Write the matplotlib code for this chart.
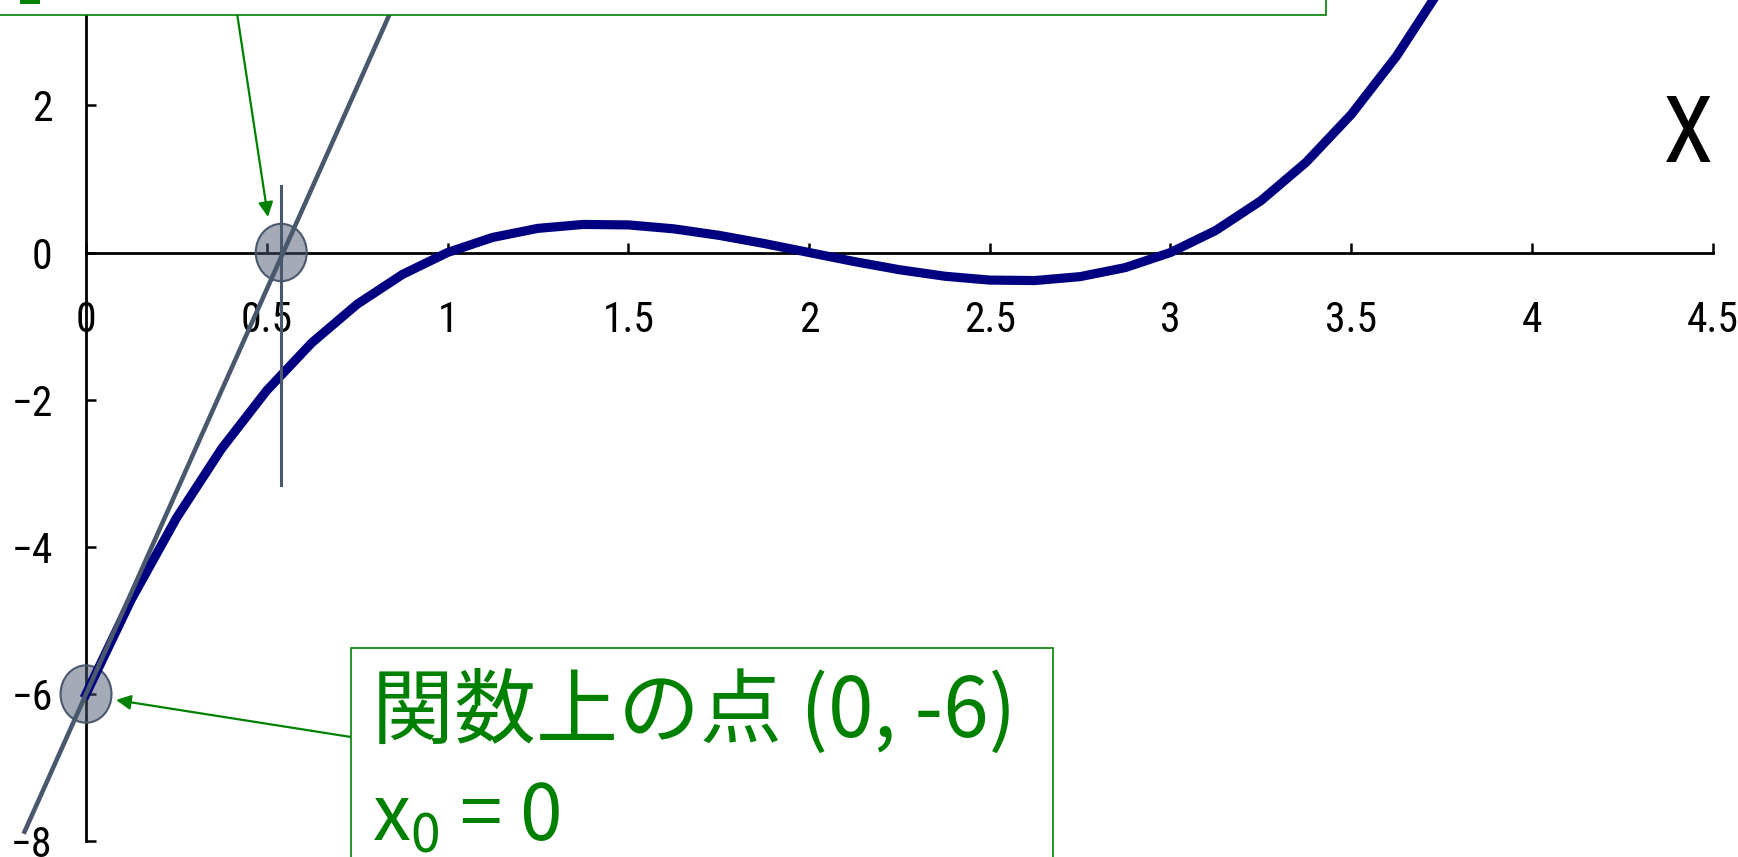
import matplotlib
matplotlib.use("Agg")
import matplotlib.pyplot as plt
from matplotlib.patches import Ellipse, Rectangle

plt.rcParams['font.family'] = ['Noto Sans CJK JP', 'DejaVu Sans']
plt.rcParams['mathtext.fontset'] = 'custom'
plt.rcParams['mathtext.rm'] = 'Noto Sans CJK JP'
plt.rcParams['mathtext.it'] = 'Noto Sans CJK JP'

# f(x) = (x-1)(x-2)(x-3), sampled every 0.125
curve_x = [0, 0.125, 0.25, 0.375, 0.5, 0.625, 0.75, 0.875, 1.0, 1.125, 1.25, 1.375,
           1.5, 1.625, 1.75, 1.875, 2.0, 2.125, 2.25, 2.375, 2.5, 2.625, 2.75, 2.875,
           3.0, 3.125, 3.25, 3.375, 3.5, 3.625, 3.75]
curve_y = [-6.0, -4.717, -3.609, -2.666, -1.875, -1.225, -0.703, -0.299, 0.0, 0.205,
           0.328, 0.381, 0.375, 0.322, 0.234, 0.123, 0.0, -0.123, -0.234, -0.322,
           -0.375, -0.381, -0.328, -0.205, 0.0, 0.299, 0.703, 1.225, 1.875, 2.666, 3.609]

# tangent at x0 = 0 (slope 11) and where it meets the x axis
tangent_x = [-0.17, 0.87]
tangent_y = [-7.87, 3.57]
x0, y0 = 0, -6
x1 = 0.54
guide_y = [-3.16, 0.9]

xticks = [0, 0.5, 1, 1.5, 2, 2.5, 3, 3.5, 4, 4.5]
xtick_labels = ['0', '0.5', '1', '1.5', '2', '2.5', '3', '3.5', '4', '4.5']
yticks = [-8, -6, -4, -2, 0, 2]
ytick_labels = ['\u22128', '\u22126', '\u22124', '\u22122', '0', '2']

green = '#008000'
slate = '#4a586e'
navy = '#000080'
narrow = ['Roboto Condensed', 'DejaVu Sans']

W, H = 1738, 857
fig = plt.figure(figsize=(W / 100, H / 100), dpi=100)
ax = fig.add_axes([0, 0, 1, 1])
ax.set_xlim(-0.238, 4.570)
ax.set_ylim(-8.214, 3.431)
ax.patch.set_visible(False)

for s in ('top', 'right'):
    ax.spines[s].set_visible(False)
ax.spines['left'].set_position(('data', 0))
ax.spines['bottom'].set_position(('data', 0))
ax.spines['left'].set_bounds(-8, 3.5)
ax.spines['bottom'].set_bounds(0, 4.5)
for s in ('left', 'bottom'):
    ax.spines[s].set_linewidth(2)
    ax.spines[s].set_zorder(1)

ax.set_xticks(xticks)
ax.set_xticklabels(xtick_labels, family=narrow, stretch='condensed')
ax.set_yticks(yticks)
ax.set_yticklabels(ytick_labels, family=narrow, stretch='condensed')
ax.tick_params(direction='in', length=7, width=1.8, labelsize=30)
ax.tick_params(axis='x', pad=34)
ax.tick_params(axis='y', pad=24)

ax.plot(curve_x, curve_y, color=navy, lw=6.6, zorder=3, solid_joinstyle='miter')
ax.plot(tangent_x, tangent_y, color=slate, lw=3.3, zorder=4)
ax.plot([x1, x1], guide_y, color=slate, lw=2.2, zorder=4)

for cx, cy in [(x1, 0), (x0, y0)]:
    ax.add_patch(Ellipse((cx, cy), 0.141, 0.78, facecolor=slate, alpha=0.5,
                         edgecolor='none', zorder=2))
    ax.add_patch(Ellipse((cx, cy), 0.141, 0.78, facecolor='none', edgecolor=slate,
                         lw=1.5, zorder=2))

ax.text(4.503, 1.57, 'X', family=narrow, stretch='condensed', fontsize=66,
        ha='right', va='center', color='black')

def fx(px):
    return px / W

def fy(py):
    return 1 - py / H

# callout boxes
fig.patches.append(Rectangle((fx(-10), fy(15)), fx(1336), fy(-30) - fy(15),
                             transform=fig.transFigure, facecolor='white',
                             edgecolor=green, lw=1.2, zorder=10))
fig.patches.append(Rectangle((fx(20), fy(4)), fx(20), fy(0) - fy(4),
                             transform=fig.transFigure, facecolor=green,
                             edgecolor='none', zorder=11))
fig.patches.append(Rectangle((fx(351), fy(H + 20)), fx(702), fy(648) - fy(H + 20),
                             transform=fig.transFigure, facecolor='white',
                             edgecolor=green, lw=1.2, zorder=10))

fig.text(fx(372), fy(737), '関数上の点 (0, -6)', fontsize=59, color=green,
         va='baseline', zorder=12)
fig.text(fx(372), fy(840), 'x$_0$ = 0', fontsize=55, color=green,
         va='baseline', zorder=12)

arrow = dict(arrowstyle='-|>', color=green, lw=1.6, mutation_scale=22,
             shrinkA=0, shrinkB=0)
ax.annotate('', xy=(268, H - 217), xycoords='figure pixels',
            xytext=(235, H), textcoords='figure pixels', arrowprops=arrow,
            zorder=12)
ax.annotate('', xy=(116, H - 700), xycoords='figure pixels',
            xytext=(351, H - 737), textcoords='figure pixels', arrowprops=arrow,
            zorder=12)

fig.savefig('out.png', dpi=100)
